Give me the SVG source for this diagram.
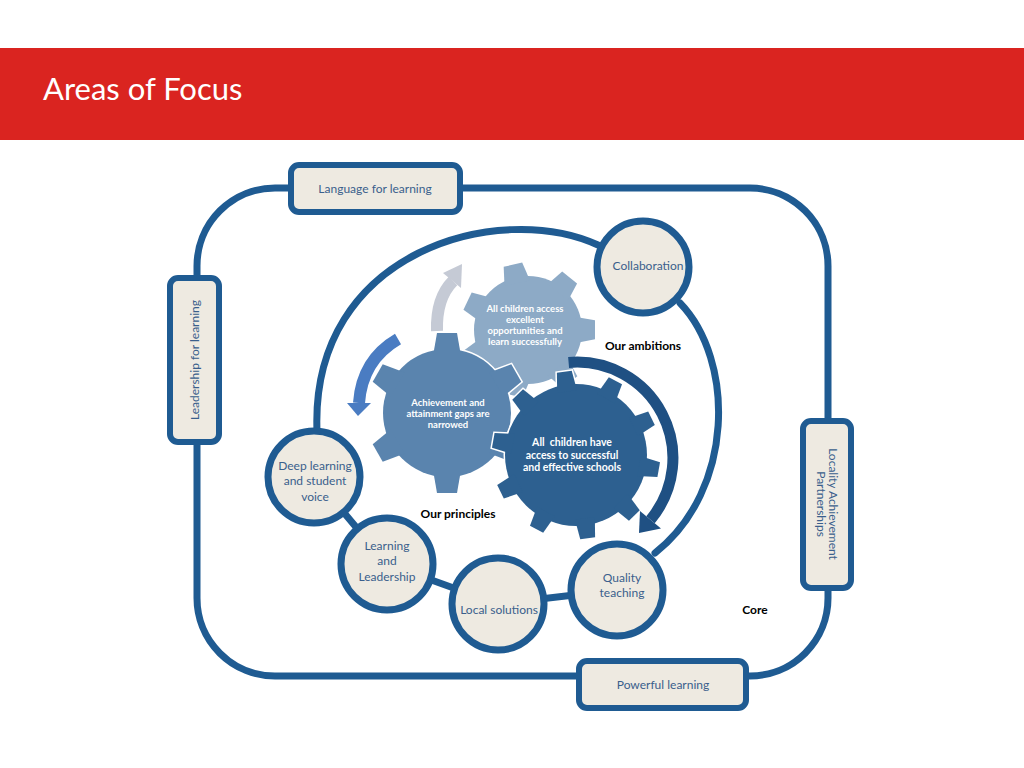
<svg xmlns="http://www.w3.org/2000/svg" xmlns:xlink="http://www.w3.org/1999/xlink" width="1024" height="768" viewBox="0 0 1024 768">
<style>
.ln{fill:none;stroke:#1F5B92;stroke-width:7;stroke-linecap:round}
.box{fill:#EEEAE1;stroke:#1F5B92;stroke-width:6}
.circ{fill:#EEEAE1;stroke:#1F5B92;stroke-width:7}
.lbl{font-family:Lato,"Liberation Sans",sans-serif;font-size:12px;fill:#3A5F8C;text-anchor:middle}
.gt{font-family:Lato,"Liberation Sans",sans-serif;font-weight:bold;fill:#FFFFFF;text-anchor:middle}
.bl{font-family:Lato,"Liberation Sans",sans-serif;font-weight:bold;font-size:12px;fill:#000;text-anchor:middle}
</style>
<defs>
<g id="gearL">
<circle r="54"/>
<polygon points="-13,-48 -9.5,-67 9.5,-67 13,-48" transform="rotate(-13)"/>
<polygon points="-13,-48 -9.5,-67 9.5,-67 13,-48" transform="rotate(38.43)"/>
<polygon points="-13,-48 -9.5,-67 9.5,-67 13,-48" transform="rotate(89.86)"/>
<polygon points="-13,-48 -9.5,-67 9.5,-67 13,-48" transform="rotate(141.29)"/>
<polygon points="-13,-48 -9.5,-67 9.5,-67 13,-48" transform="rotate(192.71)"/>
<polygon points="-13,-48 -9.5,-67 9.5,-67 13,-48" transform="rotate(244.14)"/>
<polygon points="-13,-48 -9.5,-67 9.5,-67 13,-48" transform="rotate(295.57)"/>
</g>
<g id="gearM">
<circle r="64"/>
<polygon points="-14,-57 -10,-80 10,-80 14,-57" transform="rotate(0)"/>
<polygon points="-14,-57 -10,-80 10,-80 14,-57" transform="rotate(60)"/>
<polygon points="-14,-57 -10,-80 10,-80 14,-57" transform="rotate(120)"/>
<polygon points="-14,-57 -10,-80 10,-80 14,-57" transform="rotate(180)"/>
<polygon points="-14,-57 -10,-80 10,-80 14,-57" transform="rotate(240)"/>
<polygon points="-14,-57 -10,-80 10,-80 14,-57" transform="rotate(300)"/>
</g>
<g id="gearD">
<circle r="71"/>
<polygon points="-10,-64 -7.5,-84 7.5,-84 10,-64" transform="rotate(-8)"/>
<polygon points="-10,-64 -7.5,-84 7.5,-84 10,-64" transform="rotate(28)"/>
<polygon points="-10,-64 -7.5,-84 7.5,-84 10,-64" transform="rotate(64)"/>
<polygon points="-10,-64 -7.5,-84 7.5,-84 10,-64" transform="rotate(100)"/>
<polygon points="-10,-64 -7.5,-84 7.5,-84 10,-64" transform="rotate(136)"/>
<polygon points="-10,-64 -7.5,-84 7.5,-84 10,-64" transform="rotate(172)"/>
<polygon points="-10,-64 -7.5,-84 7.5,-84 10,-64" transform="rotate(208)"/>
<polygon points="-10,-64 -7.5,-84 7.5,-84 10,-64" transform="rotate(244)"/>
<polygon points="-10,-64 -7.5,-84 7.5,-84 10,-64" transform="rotate(280)"/>
<polygon points="-10,-64 -7.5,-84 7.5,-84 10,-64" transform="rotate(316)"/>
</g>
</defs>

<rect width="1024" height="768" fill="#FFFFFF"/>

<g id="title">
<rect x="0" y="48" width="1024" height="92" fill="#DA2420"/>
<text x="43" y="100" font-family="Lato,'Liberation Sans',sans-serif" font-size="31" fill="#FFFFFF">Areas of Focus</text>
</g>

<g id="connectors">
<rect class="ln" x="197" y="188" width="631" height="488" rx="78" ry="78"/>
<path class="ln" d="M 598,245 C 500,200 310,250 317,431"/>
<path class="ln" d="M 680,303 C 735,360 735,490 655,553"/>
<line class="ln" x1="314" y1="477" x2="387" y2="564"/>
<line class="ln" x1="387" y1="564" x2="498" y2="604"/>
<line class="ln" x1="498" y1="604" x2="617" y2="590"/>
</g>

<g id="arrows">
<path d="M 437,331 Q 436,298 453,281" fill="none" stroke="#C5CAD5" stroke-width="12"/>
<polygon points="443,273 462,264 461,288" fill="#C5CAD5"/>
<path d="M 398,339 Q 362,360 359,403" fill="none" stroke="#4A7CC2" stroke-width="12"/>
<polygon points="347,403 371,403 358,416" fill="#4A7CC2"/>
</g>

<g id="gear-ambition">
<use xlink:href="#gearL" href="#gearL" transform="translate(528,330)" fill="#8DAAC6" stroke="#FFFFFF" stroke-width="3"/>
<use xlink:href="#gearL" href="#gearL" transform="translate(528,330)" fill="#8DAAC6"/>
<text class="gt" font-size="9.5"><tspan x="525" y="312">All children access</tspan><tspan x="525" y="323">excellent</tspan><tspan x="525" y="334">opportunities and</tspan><tspan x="525" y="345">learn successfully</tspan></text>
</g>

<g id="gear-gaps">
<use xlink:href="#gearM" href="#gearM" transform="translate(447,413)" fill="#5A84AE" stroke="#FFFFFF" stroke-width="3"/>
<use xlink:href="#gearM" href="#gearM" transform="translate(447,413)" fill="#5A84AE"/>
<text class="gt" font-size="9.5"><tspan x="448" y="406">Achievement and</tspan><tspan x="448" y="417">attainment gaps are</tspan><tspan x="448" y="428">narrowed</tspan></text>
</g>

<g id="gear-schools">
<use xlink:href="#gearD" href="#gearD" transform="translate(576,455)" fill="#2D6090" stroke="#FFFFFF" stroke-width="3"/>
<use xlink:href="#gearD" href="#gearD" transform="translate(576,455)" fill="#2D6090"/>
<text class="gt" font-size="10.5" xml:space="preserve"><tspan x="572" y="446">All  children have</tspan><tspan x="572" y="459">access to successful</tspan><tspan x="572" y="471">and effective schools</tspan></text>
</g>

<g id="arrow-cycle">
<path d="M 568.6,362.4 A 96,96 0 0 1 650.5,519.7" fill="none" stroke="#1F5083" stroke-width="11"/>
<polygon points="661,528.5 640,511 639,533" fill="#1F5083"/>
</g>

<g id="box-language">
<rect class="box" x="291" y="165" width="169" height="47" rx="8"/>
<text class="lbl" x="375" y="193">Language for learning</text>
</g>
<g id="box-leadership">
<rect class="box" x="170" y="278" width="49" height="164" rx="8"/>
<text class="lbl" transform="translate(195,360) rotate(-90)" x="0" y="4">Leadership for learning</text>
</g>
<g id="box-locality">
<rect class="box" x="803" y="421" width="48" height="167" rx="8"/>
<text class="lbl" transform="translate(827,504) rotate(90)"><tspan x="0" y="-2">Locality Achievement</tspan><tspan x="0" y="10">Partnerships</tspan></text>
</g>
<g id="box-powerful">
<rect class="box" x="579" y="661" width="167" height="47" rx="8"/>
<text class="lbl" x="663" y="689">Powerful learning</text>
</g>

<g id="node-collaboration">
<circle class="circ" cx="643" cy="267" r="46"/>
<text class="lbl" x="648" y="270">Collaboration</text>
</g>
<g id="node-deep">
<circle class="circ" cx="314" cy="477" r="46"/>
<text class="lbl"><tspan x="315" y="470">Deep learning</tspan><tspan x="315" y="485">and student</tspan><tspan x="315" y="501">voice</tspan></text>
</g>
<g id="node-learning">
<circle class="circ" cx="387" cy="564" r="46"/>
<text class="lbl"><tspan x="387" y="550">Learning</tspan><tspan x="387" y="565">and</tspan><tspan x="387" y="581">Leadership</tspan></text>
</g>
<g id="node-local">
<circle class="circ" cx="498" cy="604" r="46"/>
<text class="lbl" x="499" y="614">Local solutions</text>
</g>
<g id="node-quality">
<circle class="circ" cx="617" cy="590" r="46"/>
<text class="lbl"><tspan x="622" y="582">Quality</tspan><tspan x="622" y="597">teaching</tspan></text>
</g>

<g id="labels">
<text class="bl" x="643" y="350">Our ambitions</text>
<text class="bl" x="458" y="518">Our principles</text>
<text class="bl" x="755" y="614">Core</text>
</g>
</svg>
